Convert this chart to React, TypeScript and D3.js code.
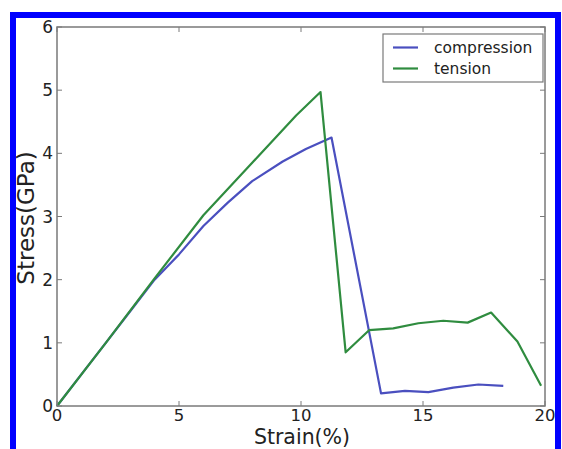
import React from "react";
import * as d3 from "d3";

const compressionStrain = [0, 1, 2, 3, 4, 5, 6, 7, 8, 9.25, 10.2, 11.25, 13.28, 14.26, 15.22, 16.24, 17.27, 18.29];
const compressionStress = [0, 0.5, 1.0, 1.5, 2.0, 2.4, 2.85, 3.22, 3.56, 3.87, 4.07, 4.25, 0.2, 0.24, 0.22, 0.29, 0.34, 0.32];
const tensionStrain = [0, 2, 4, 6, 8, 9.8, 10.8, 11.83, 12.79, 13.78, 14.81, 15.83, 16.83, 17.79, 18.87, 19.84];
const tensionStress = [0, 1.0, 2.02, 3.02, 3.85, 4.6, 4.97, 0.85, 1.2, 1.23, 1.31, 1.35, 1.32, 1.48, 1.02, 0.32];
const xTicks = [0, 5, 10, 15, 20];
const yTicks = [0, 1, 2, 3, 4, 5, 6];
const seriesNames = ["compression", "tension"];

const W = 562, H = 449;
const left = 57, right = 545, top = 27, bottom = 406;
const BLUE = "#4a4fbf";
const GREEN = "#2f8c3f";
const AXIS = "#7a7a7a";
const FONT = "DejaVu Sans, sans-serif";

export default function App() {
  const x = d3.scaleLinear().domain([0, 20]).range([left, right]);
  const y = d3.scaleLinear().domain([0, 6]).range([bottom, top]);
  const line = d3.line<[number, number]>().x(d => x(d[0])).y(d => y(d[1]));
  const comp = compressionStrain.map((s, i) => [s, compressionStress[i]] as [number, number]);
  const tens = tensionStrain.map((s, i) => [s, tensionStress[i]] as [number, number]);
  const colors = [BLUE, GREEN];

  return (
    <svg width={W} height={H} style={{ position: "absolute", left: 0, top: 0, background: "#fff" }}>
      <rect x={0} y={0} width={W} height={H} fill="#fff" />
      <path d={line(comp) || ""} fill="none" stroke={BLUE} strokeWidth={2.2} strokeLinejoin="round" />
      <path d={line(tens) || ""} fill="none" stroke={GREEN} strokeWidth={2.2} strokeLinejoin="round" />
      <rect x={left} y={top} width={right - left} height={bottom - top} fill="none" stroke={AXIS} strokeWidth={1.5} />
      {xTicks.map(t => (
        <g key={"x" + t}>
          <line x1={x(t)} x2={x(t)} y1={bottom} y2={bottom - 5} stroke={AXIS} />
          <line x1={x(t)} x2={x(t)} y1={top} y2={top + 5} stroke={AXIS} />
          <text x={x(t)} y={421} textAnchor="middle" fontFamily={FONT} fontSize={16.5} fill="#222">{t}</text>
        </g>
      ))}
      {yTicks.map(t => (
        <g key={"y" + t}>
          <line x1={left} x2={left + 5} y1={y(t)} y2={y(t)} stroke={AXIS} />
          <line x1={right} x2={right - 5} y1={y(t)} y2={y(t)} stroke={AXIS} />
          <text x={left - 4} y={y(t)} dy="0.36em" textAnchor="end" fontFamily={FONT} fontSize={17} fill="#222">{t}</text>
        </g>
      ))}
      <text x={302} y={444} textAnchor="middle" fontFamily={FONT} fontSize={20.5} fill="#222">Strain(%)</text>
      <text transform={`translate(34,218) rotate(-90)`} textAnchor="middle" fontFamily={FONT} fontSize={23} fill="#222">Stress(GPa)</text>
      <rect x={383} y={34} width={160} height={48} fill="#fff" stroke={AXIS} strokeWidth={1.2} />
      {seriesNames.map((n, i) => (
        <g key={n}>
          <line x1={393} x2={418} y1={47.5 + i * 21} y2={47.5 + i * 21} stroke={colors[i]} strokeWidth={2.2} />
          <text x={434} y={47.5 + i * 21} dy="0.35em" fontFamily={FONT} fontSize={15.5} fill="#222">{n}</text>
        </g>
      ))}
      <rect x={13} y={15} width={545} height={500} fill="none" stroke="#0000ff" strokeWidth={6} />
    </svg>
  );
}
